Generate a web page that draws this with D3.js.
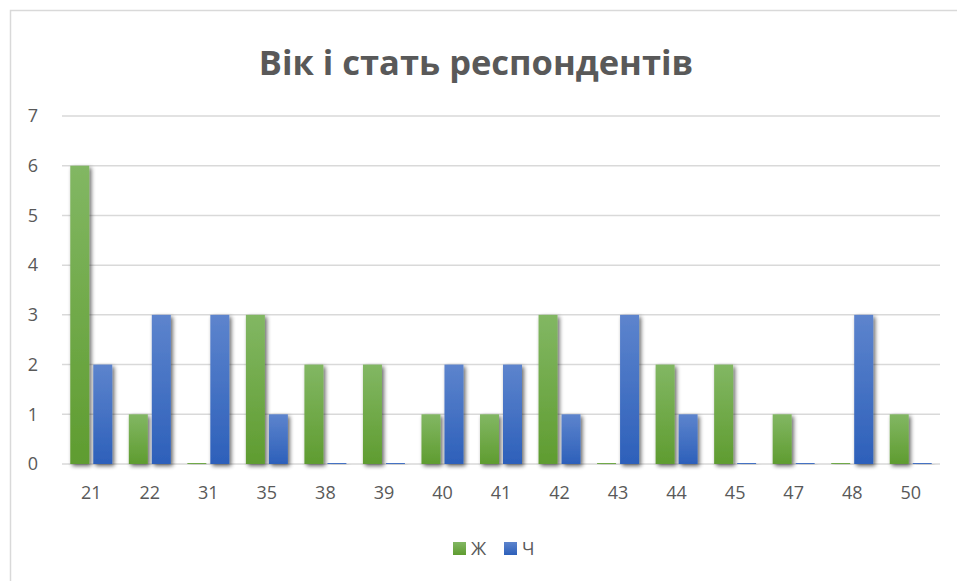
<!DOCTYPE html>
<html>
<head>
<meta charset="utf-8">
<script src="https://cdn.jsdelivr.net/npm/d3@7"></script>
<style>
  body { margin: 0; background: #fff; }
  text { font-family: "Open Sans", "Noto Sans", sans-serif; fill: #595959; }
</style>
</head>
<body>
<div class="chart"></div>
<script>
const width = 957, height = 581

// data
const ages = ['21', '22', '31', '35', '38', '39', '40', '41', '42', '43', '44', '45', '47', '48', '50']
const women = [6, 1, 0, 3, 2, 2, 1, 1, 3, 0, 2, 2, 1, 0, 1]
const men = [2, 3, 3, 1, 0, 0, 2, 2, 1, 3, 1, 0, 0, 3, 0]
const seriesNames = ['Ж', 'Ч']
const yTicks = [0, 1, 2, 3, 4, 5, 6, 7]

const series = [
    { name: seriesNames[0], values: women, key: 'green' },
    { name: seriesNames[1], values: men, key: 'blue' }
]

const margin = { left: 62, right: 17, top: 116, bottom: 117 }

const svg = d3.select('.chart').append('svg')
    .attr('width', width)
    .attr('height', height)

const defs = svg.append('defs')

const grads = {
    green: ['#82b763', '#5f9c30'],
    blue: ['#5d84cd', '#2d60ba']
}
Object.keys(grads).forEach(k => {
    const g = defs.append('linearGradient')
        .attr('id', 'grad-' + k)
        .attr('x1', 0).attr('y1', 0).attr('x2', 0).attr('y2', 1)
    g.append('stop').attr('offset', '0%').attr('stop-color', grads[k][0])
    g.append('stop').attr('offset', '100%').attr('stop-color', grads[k][1])
})

const shadow = defs.append('filter').attr('id', 'shadow')
    .attr('x', '-50%').attr('y', '-10%').attr('width', '200%').attr('height', '130%')
shadow.append('feGaussianBlur').attr('in', 'SourceAlpha').attr('stdDeviation', 2)
shadow.append('feOffset').attr('dx', 2).attr('dy', 2).attr('result', 'blur')
shadow.append('feComponentTransfer').append('feFuncA').attr('type', 'linear').attr('slope', 0.6)
const merge = shadow.append('feMerge')
merge.append('feMergeNode')
merge.append('feMergeNode').attr('in', 'SourceGraphic')

// outer frame
svg.append('rect')
    .attr('x', 10.5).attr('y', 10.5)
    .attr('width', width + 20).attr('height', height + 20)
    .attr('fill', 'none')
    .attr('stroke', '#d9d9d9')
    .attr('stroke-width', 1.5)

svg.append('text')
    .attr('x', 476)
    .attr('y', 75)
    .attr('text-anchor', 'middle')
    .style('font-size', '34.5px')
    .style('font-weight', 'bold')
    .text('Вік і стать респондентів')

const x = d3.scaleBand()
    .domain(ages)
    .range([margin.left, width - margin.right])

const x1 = d3.scaleBand()
    .domain(seriesNames)
    .range([0, x.bandwidth()])
    .paddingInner(0.174)
    .paddingOuter(0.36)

const y = d3.scaleLinear()
    .domain([0, 7])
    .range([height - margin.bottom, margin.top])

// gridlines
svg.append('g').attr('class', 'grid')
    .selectAll('line')
    .data(yTicks)
    .enter().append('line')
    .attr('x1', margin.left)
    .attr('x2', width - margin.right)
    .attr('y1', d => y(d))
    .attr('y2', d => y(d))
    .attr('stroke', '#d9d9d9')
    .attr('stroke-width', 1.5)

// y axis labels
const yAxis = svg.append('g')
    .attr('transform', 'translate(' + 38 + ',0)')
    .call(d3.axisLeft(y).tickValues(yTicks).tickFormat(d3.format('d')).tickSize(0).tickPadding(0))
yAxis.select('.domain').remove()
yAxis.selectAll('text')
    .style('font-size', '18px')
    .attr('fill', '#595959')

// x axis labels
const xAxis = svg.append('g')
    .attr('transform', 'translate(0,' + (height - margin.bottom) + ')')
    .call(d3.axisBottom(x).tickSize(0).tickPadding(22))
xAxis.select('.domain').remove()
xAxis.selectAll('text')
    .style('font-size', '18px')
    .attr('fill', '#595959')

// bars
const groups = svg.append('g').attr('class', 'bars')
    .selectAll('g')
    .data(series)
    .enter().append('g')
    .attr('fill', d => 'url(#grad-' + d.key + ')')

groups.selectAll('rect')
    .data(d => d.values.map((v, i) => ({ name: d.name, age: ages[i], value: v })))
    .enter().append('rect')
    .attr('x', d => x(d.age) + x1(d.name))
    .attr('y', d => y(d.value) - (d.value === 0 ? 1 : 0))
    .attr('width', x1.bandwidth())
    .attr('height', d => Math.max(1, y(0) - y(d.value)))
    .attr('filter', 'url(#shadow)')

// legend
const legend = svg.append('g').attr('class', 'legend')
    .selectAll('g')
    .data(series)
    .enter().append('g')
    .attr('transform', (d, i) => 'translate(' + (453 + i * 51) + ',542)')
legend.append('rect')
    .attr('width', 13).attr('height', 13)
    .attr('fill', d => 'url(#grad-' + d.key + ')')
legend.append('text')
    .attr('x', 18)
    .attr('y', 13)
    .style('font-size', '18px')
    .text(d => d.name)
</script>
</body>
</html>
